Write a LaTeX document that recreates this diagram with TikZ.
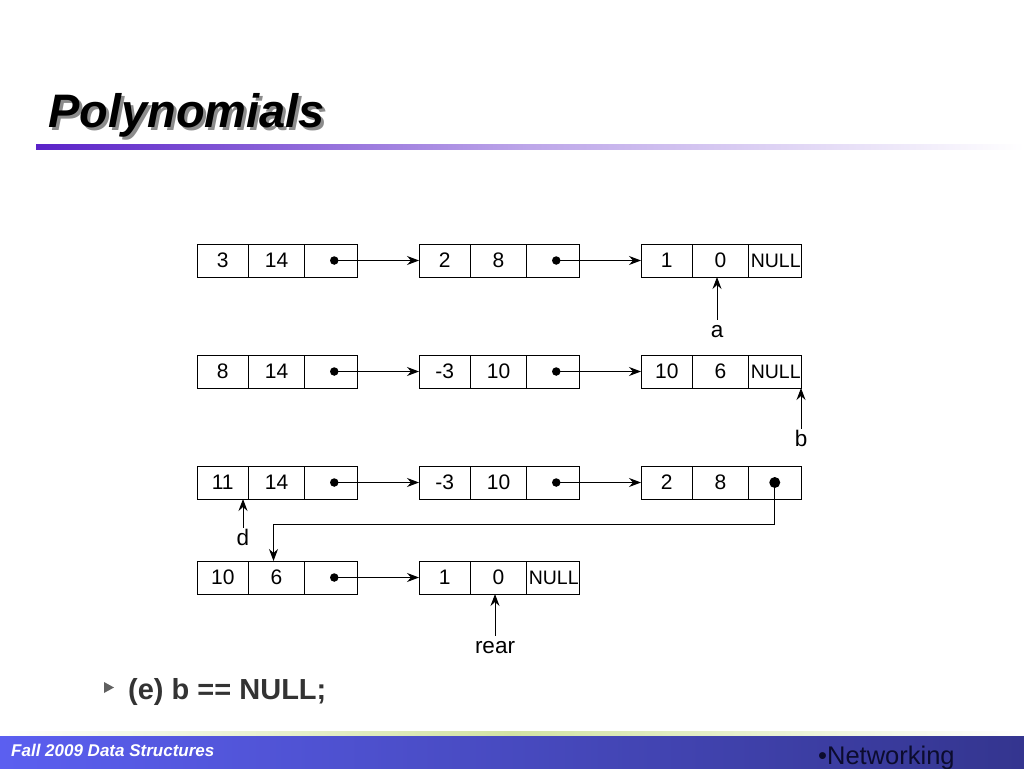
\documentclass[tikz,border=0pt]{standalone}
\usepackage{fontspec}
\setmainfont{Liberation Sans}
\usetikzlibrary{positioning, arrows.meta}
\definecolor{cTitleBar}{HTML}{5A22C8}
\definecolor{cShadow}  {HTML}{8C8C8C}
\definecolor{cBody}    {HTML}{333333}
\definecolor{cBullet}  {HTML}{606060}
\definecolor{cFootL}   {HTML}{5B5FF0}
\definecolor{cFootR}   {HTML}{34358F}
\definecolor{cFootLine}{HTML}{D2E2A4}
\definecolor{cNet}     {HTML}{0C0C2E}

\begin{document}
\begin{tikzpicture}[x=1pt, y=-1pt,
    cell/.style={draw, line width=1pt, minimum height=33pt, inner sep=0pt, outer sep=0pt,
                 font=\fontsize{21}{24}\selectfont},
    coefcell/.style={cell, minimum width=51.5pt},
    expcell/.style={cell, minimum width=56pt},
    linkcell/.style={cell, minimum width=52.5pt},
    nullTxt/.style={inner sep=0pt, font=\fontsize{19.5}{22}\selectfont},
    dot/.style={circle, fill, inner sep=0pt, minimum size=8.5pt},
    bigdot/.style={dot, minimum size=11pt},
    lbl/.style={anchor=base, inner sep=0pt, text height=17pt, text depth=0pt,
                font=\fontsize{22.5}{26}\selectfont},
    nxt/.style={-{Stealth[length=12pt, width=9pt, inset=4pt]}, line width=1pt},
    titletxt/.style={anchor=base west, inner sep=0pt,
                     font=\fontsize{47}{54}\selectfont\bfseries\itshape},
  ]
  \path[fill=white, use as bounding box] (0,0) rectangle (1024,768);

  % title with its shadow
  \node[titletxt] (ttl) at (48,127)
    {\makebox[0pt][l]{\hspace{3pt}\raisebox{-3pt}{\textcolor{cShadow}{Polynomials}}}Polynomials};
  \shade[left color=cTitleBar, right color=white, middle color=cTitleBar!40] (36,144) rectangle (1024,149);

  % list nodes: coef | exp | link
  \foreach \nm/\px/\py/\cf/\ex in {a1/197/260.5/3/14, a2/419/260.5/2/8, a3/641/260.5/1/0,
      b1/197/371.5/8/14, b2/419/371.5/-3/10, b3/641/371.5/10/6,
      c1/197/482.5/11/14, c2/419/482.5/-3/10, c3/641/482.5/2/8,
      d1/197/577.5/10/6, d2/419/577.5/1/0} {
    \node[coefcell, anchor=west] (\nm c) at (\px,\py) {\cf};
    \node[expcell, right=0pt of \nm c] (\nm e) {\ex};
    \node[linkcell, right=0pt of \nm e] (\nm l) {};
  }
  \foreach \nm in {a1, a2, b1, b2, c1, c2, d1}
    \node[dot] (\nm p) at ([xshift=3.5pt]\nm l.center) {};
  \node[bigdot] (c3p) at (c3l.center) {};
  \foreach \nm in {a3, b3, d2}
    \node[nullTxt] (\nm n) at ([xshift=1pt]\nm l.center) {NULL};

  \foreach \src/\dst in {a1/a2, a2/a3, b1/b2, b2/b3, c1/c2, c2/c3, d1/d2}
    \draw[nxt] (\src p.center) -- (\dst c.west);
  \draw[nxt] (c3p.center) -- ++(0,42) -| ([xshift=-3pt]d1e.north);

  % pointers
  \node[lbl] (pa) at (717,337) {a};
  \node[lbl] (pb) at (801,446) {b};
  \node[lbl] (pd) at (243,545) {d};
  \node[lbl] (pr) at (495,653) {rear};
  \draw[nxt] (pa.north) -- (pa.north |- a3e.south);
  \draw[nxt] (pb.north) -- (pb.north |- b3l.south);
  \draw[nxt] (pd.north) -- (pd.north |- c1c.south);
  \draw[nxt] (pr.north) -- (pr.north |- d2e.south);

  % bullet line
  \fill[cBullet] (104,682) -- (114,687.5) -- (104,693) -- cycle;
  \node[anchor=base west, inner sep=0pt, text=cBody,
        font=\fontsize{29}{34}\selectfont\bfseries] (item) at (128,699) {(e) b == NULL;};

  % footer
  \shade[left color=white, right color=white, middle color=cFootLine] (0,731) rectangle (1024,736);
  \shade[left color=cFootL, right color=cFootR] (0,736) rectangle (1024,768);
  \node[anchor=base west, inner sep=0pt, text=white,
        font=\fontsize{17}{20}\selectfont\bfseries\itshape] (foot) at (11,756) {Fall 2009 Data Structures};
  \node[anchor=base west, inner sep=0pt, text=cNet,
        font=\fontsize{25.5}{30}\selectfont] (net) at (818,764) {•Networking};
\end{tikzpicture}
\end{document}
